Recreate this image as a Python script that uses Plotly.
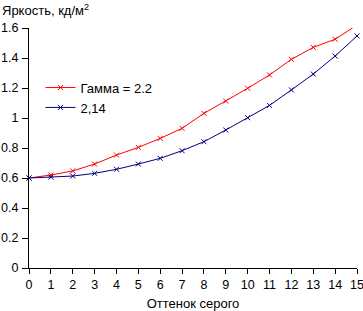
import plotly.graph_objects as go

shades = list(range(16))
gamma_22 = [0.60, 0.62, 0.647, 0.693, 0.753, 0.804, 0.864, 0.931, 1.031, 1.113, 1.198, 1.287, 1.391, 1.471, 1.525, 1.62]
gamma_214 = [0.60, 0.606, 0.613, 0.631, 0.658, 0.693, 0.731, 0.782, 0.842, 0.92, 1.002, 1.084, 1.187, 1.293, 1.413, 1.547]
names = ["Гамма = 2.2", "2,14"]
colors = ["#ff0000", "#000080"]

fig = go.Figure()
for name, ys, c in zip(names, [gamma_22, gamma_214], colors):
    fig.add_trace(go.Scatter(x=shades, y=ys, name=name, mode="lines+markers", cliponaxis=False,
                             line=dict(color=c, width=1),
                             marker=dict(symbol="x-thin", size=5, line=dict(color=c, width=1), color=c)))

font = dict(family="Liberation Sans, Arial, sans-serif", size=13, color="#000")
tickfont = dict(family="Liberation Sans, Arial, sans-serif", size=12.5, color="#000")
fig.update_layout(
    width=363, height=311,
    margin=dict(l=29, r=6, t=28, b=43),
    paper_bgcolor="white", plot_bgcolor="white",
    font=font,
    showlegend=True,
    legend=dict(x=0.035, y=0.71, xanchor="left", yanchor="middle", bgcolor="rgba(0,0,0,0)",
                font=font, itemwidth=30, tracegroupgap=0),
    xaxis=dict(range=[0, 15], tickmode="linear", tick0=0, dtick=1, showgrid=False, zeroline=False,
               showline=True, linecolor="#000", linewidth=1, ticks="outside", ticklen=5, tickcolor="#000",
               ticklabeloverflow="allow", ticklabelstandoff=0, automargin=False, tickfont=tickfont,
               title=dict(text="Оттенок серого", font=font, standoff=8)),
    yaxis=dict(range=[0, 1.6], tickmode="array", tickvals=[0, 0.2, 0.4, 0.6, 0.8, 1, 1.2, 1.4, 1.6],
               ticktext=["0", "0.2", "0.4", "0.6", "0.8", "1", "1.2", "1.4", "1.6"],
               showgrid=False, zeroline=False, automargin=False, tickfont=tickfont,
               ticklabelstandoff=1, ticklabeloverflow="allow",
               showline=True, linecolor="#000", linewidth=1, ticks="outside", ticklen=6, tickcolor="#000"),
    annotations=[dict(text="Яркость, кд/м<sup>2</sup>", xref="paper", yref="paper", x=-29/328, y=1,
                      xanchor="left", yanchor="bottom", yshift=8, showarrow=False, font=font)],
)
fig.write_html("out.html")
